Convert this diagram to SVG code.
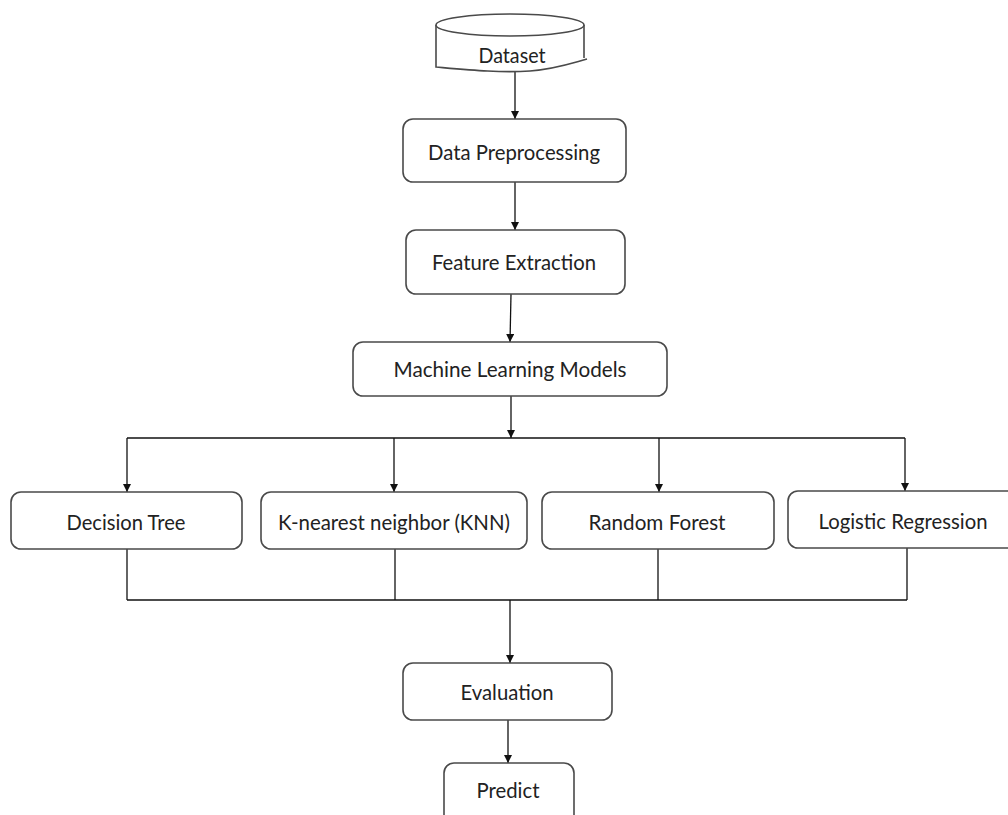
<svg xmlns="http://www.w3.org/2000/svg" width="1008" height="815" viewBox="0 0 1008 815">
  <style>
    .box { fill: #ffffff; stroke: #4a4a4a; stroke-width: 1.6; }
    .lbl { font-family: Lato, "Noto Sans", "Liberation Sans", sans-serif; font-size: 22px; fill: #222222; text-anchor: middle; }
    .ln { fill: none; stroke: #111111; stroke-width: 1.3; }
  </style>
  <defs>
    <marker id="arr" viewBox="0 0 10 10" refX="10" refY="5" markerWidth="8" markerHeight="8" markerUnits="userSpaceOnUse" orient="auto">
      <path d="M0,0 L10,5 L0,10 Z" fill="#111111"/>
    </marker>
  </defs>
  <rect width="1008" height="815" fill="#ffffff"/>

  <g id="connectors">
    <line class="ln" x1="515" y1="70" x2="515" y2="119" marker-end="url(#arr)"/>
    <line class="ln" x1="515" y1="182" x2="515" y2="230" marker-end="url(#arr)"/>
    <line class="ln" x1="511" y1="294" x2="510" y2="342" marker-end="url(#arr)"/>
    <line class="ln" x1="511" y1="396" x2="511" y2="438" marker-end="url(#arr)"/>
    <line class="ln" x1="127" y1="438" x2="905" y2="438"/>
    <line class="ln" x1="127" y1="438" x2="127" y2="492" marker-end="url(#arr)"/>
    <line class="ln" x1="394" y1="438" x2="394" y2="492" marker-end="url(#arr)"/>
    <line class="ln" x1="659" y1="438" x2="659" y2="492" marker-end="url(#arr)"/>
    <line class="ln" x1="905" y1="438" x2="905" y2="491" marker-end="url(#arr)"/>
    <line class="ln" x1="127" y1="549" x2="127" y2="600"/>
    <line class="ln" x1="395" y1="549" x2="395" y2="600"/>
    <line class="ln" x1="658" y1="549" x2="658" y2="600"/>
    <line class="ln" x1="907" y1="548" x2="907" y2="600"/>
    <line class="ln" x1="127" y1="600" x2="907" y2="600"/>
    <line class="ln" x1="510" y1="600" x2="510" y2="663" marker-end="url(#arr)"/>
    <line class="ln" x1="508" y1="720" x2="508" y2="763" marker-end="url(#arr)"/>
  </g>

  <g id="dataset">
    <path class="box" d="M436,25 V67 C470,70 500,73 530,71 C555,69 572,63 587,59 M584,25 V58"/>
    <ellipse class="box" cx="510" cy="25" rx="74" ry="11"/>
    <text class="lbl" x="512" y="63" textLength="67" lengthAdjust="spacingAndGlyphs">Dataset</text>
  </g>

  <g id="data-preprocessing">
    <rect class="box" x="403" y="119" width="223" height="63" rx="10"/>
    <text class="lbl" x="514" y="160" textLength="172" lengthAdjust="spacingAndGlyphs">Data Preprocessing</text>
  </g>

  <g id="feature-extraction">
    <rect class="box" x="406" y="230" width="219" height="64" rx="10"/>
    <text class="lbl" x="514" y="270" textLength="164" lengthAdjust="spacingAndGlyphs">Feature Extraction</text>
  </g>

  <g id="ml-models">
    <rect class="box" x="353" y="342" width="314" height="54" rx="10"/>
    <text class="lbl" x="510" y="377" textLength="233" lengthAdjust="spacingAndGlyphs">Machine Learning Models</text>
  </g>

  <g id="decision-tree">
    <rect class="box" x="11" y="492" width="231" height="57" rx="10"/>
    <text class="lbl" x="126" y="530" textLength="119" lengthAdjust="spacingAndGlyphs">Decision Tree</text>
  </g>

  <g id="knn">
    <rect class="box" x="261" y="492" width="266" height="57" rx="10"/>
    <text class="lbl" x="394" y="530" textLength="232" lengthAdjust="spacingAndGlyphs">K-nearest neighbor (KNN)</text>
  </g>

  <g id="random-forest">
    <rect class="box" x="542" y="492" width="232" height="57" rx="10"/>
    <text class="lbl" x="657" y="530" textLength="137" lengthAdjust="spacingAndGlyphs">Random Forest</text>
  </g>

  <g id="logistic-regression">
    <rect class="box" x="788" y="491" width="230" height="57" rx="10"/>
    <text class="lbl" x="903" y="529" textLength="169" lengthAdjust="spacingAndGlyphs">Logistic Regression</text>
  </g>

  <g id="evaluation">
    <rect class="box" x="403" y="663" width="209" height="57" rx="10"/>
    <text class="lbl" x="507" y="700" textLength="93" lengthAdjust="spacingAndGlyphs">Evaluation</text>
  </g>

  <g id="predict">
    <rect class="box" x="444" y="763" width="130" height="70" rx="10"/>
    <text class="lbl" x="508" y="798" textLength="63" lengthAdjust="spacingAndGlyphs">Predict</text>
  </g>
</svg>
